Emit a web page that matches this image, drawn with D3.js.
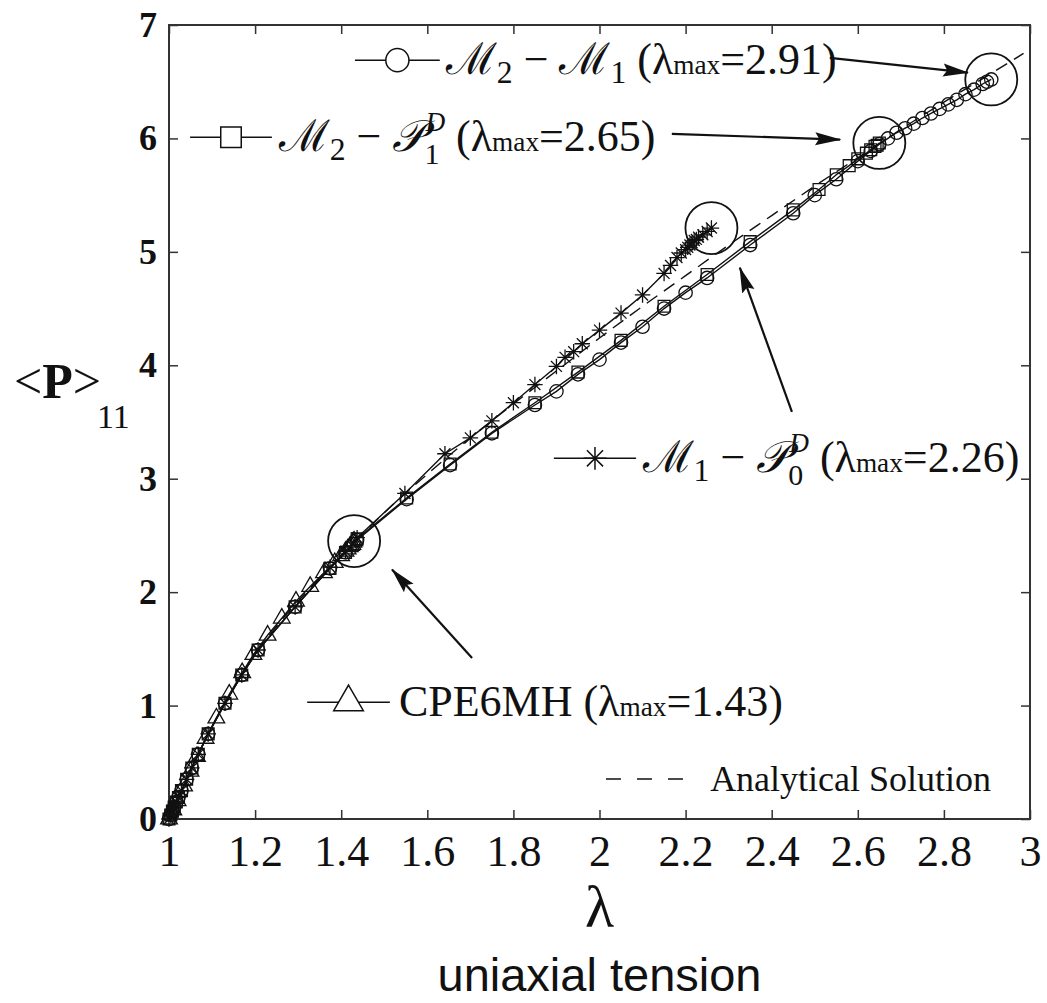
<!DOCTYPE html>
<html>
<head>
<meta charset="utf-8">
<script src="https://cdn.jsdelivr.net/npm/d3@7"></script>
<style>
body { margin: 0; background: #fff; }
svg { display: block; }
</style>
</head>
<body>
<svg id="chart" width="1047" height="1003"></svg>
<script>

// ---- data ----
const lamM2M1 = [1.0, 1.004, 1.008, 1.012, 1.017, 1.022, 1.029, 1.041, 1.053, 1.068, 1.091, 1.13, 1.169, 1.207, 1.293, 1.374, 1.41, 1.437,
    1.552, 1.653, 1.75, 1.85, 1.90, 1.95, 2.0, 2.05, 2.10, 2.15, 2.20, 2.25, 2.35, 2.45, 2.50, 2.55, 2.60, 2.63, 2.65,
    2.67, 2.69, 2.71, 2.73, 2.75, 2.77, 2.79, 2.81, 2.83, 2.85, 2.87, 2.89, 2.90, 2.91];
const pM2M1 = [0, 0.035, 0.07, 0.105, 0.15, 0.19, 0.25, 0.35, 0.45, 0.57, 0.75, 1.02, 1.27, 1.49, 1.87, 2.21, 2.35, 2.46,
    2.82, 3.12, 3.40, 3.65, 3.77, 3.92, 4.05, 4.20, 4.34, 4.50, 4.64, 4.77, 5.06, 5.34, 5.50, 5.64, 5.80, 5.89, 5.95,
    6.00, 6.05, 6.09, 6.13, 6.18, 6.22, 6.26, 6.30, 6.34, 6.39, 6.43, 6.48, 6.50, 6.52];

const lamM2P1 = [1.0, 1.004, 1.008, 1.012, 1.017, 1.022, 1.029, 1.041, 1.053, 1.068, 1.091, 1.13, 1.169, 1.207, 1.293, 1.374, 1.41, 1.437,
    1.552, 1.653, 1.75, 1.85, 1.95, 2.05, 2.15, 2.25, 2.35, 2.45, 2.51, 2.55, 2.58, 2.60, 2.62, 2.63, 2.64, 2.645, 2.65];
const pM2P1 = [0, 0.035, 0.07, 0.105, 0.15, 0.19, 0.25, 0.35, 0.45, 0.57, 0.75, 1.02, 1.27, 1.49, 1.87, 2.21, 2.35, 2.47,
    2.83, 3.13, 3.41, 3.67, 3.94, 4.22, 4.52, 4.80, 5.09, 5.37, 5.55, 5.68, 5.76, 5.82, 5.87, 5.90, 5.93, 5.94, 5.96];

const lamM1P0 = [1.0, 1.004, 1.008, 1.012, 1.017, 1.022, 1.029, 1.041, 1.053, 1.068, 1.091, 1.13, 1.169, 1.207, 1.293, 1.374, 1.41, 1.437,
    1.548, 1.641, 1.70, 1.75, 1.80, 1.85, 1.90, 1.92, 1.94, 1.96, 2.0, 2.05, 2.10, 2.15, 2.165, 2.18, 2.19, 2.20, 2.205,
    2.21, 2.215, 2.22, 2.225, 2.23, 2.24, 2.25, 2.26];
const pM1P0 = [0, 0.035, 0.07, 0.105, 0.15, 0.19, 0.25, 0.35, 0.45, 0.57, 0.75, 1.02, 1.27, 1.49, 1.87, 2.22, 2.36, 2.48,
    2.87, 3.22, 3.36, 3.51, 3.67, 3.83, 3.99, 4.07, 4.12, 4.19, 4.31, 4.46, 4.62, 4.81, 4.88, 4.95, 4.99, 5.02, 5.04,
    5.06, 5.08, 5.10, 5.11, 5.13, 5.15, 5.18, 5.21];

const lamCPE = [1.0, 1.01, 1.02, 1.035, 1.05, 1.065, 1.085, 1.11, 1.14, 1.17, 1.196, 1.229, 1.262, 1.295, 1.328, 1.36, 1.385,
    1.40, 1.41, 1.415, 1.42, 1.423, 1.426, 1.428, 1.43];
const pCPE = [0, 0.08, 0.16, 0.29, 0.42, 0.55, 0.71, 0.89, 1.10, 1.29, 1.45, 1.62, 1.77, 1.92, 2.05, 2.17, 2.26,
    2.32, 2.36, 2.38, 2.40, 2.41, 2.42, 2.44, 2.45];

const lamExact = [1.0, 1.02, 1.05, 1.1, 1.15, 1.2, 1.25, 1.3, 1.4, 1.5, 1.6, 1.7, 1.8, 1.9, 2.0, 2.1, 2.2, 2.3, 2.4,
    2.5, 2.6, 2.7, 2.8, 2.9, 2.985];
const pExact = [0, 0.18, 0.43, 0.82, 1.15, 1.45, 1.70, 1.92, 2.32, 2.70, 3.04, 3.36, 3.66, 3.95, 4.24, 4.52, 4.79, 5.06, 5.32,
    5.58, 5.83, 6.08, 6.32, 6.55, 6.75];

const xTickValues = [1, 1.2, 1.4, 1.6, 1.8, 2, 2.2, 2.4, 2.6, 2.8, 3];
const yTickValues = [0, 1, 2, 3, 4, 5, 6, 7];

// ---- layout ----
const width = 1047, height = 1003;
const svg = d3.select("#chart");

const x = d3.scaleLinear().domain([1, 3]).range([169, 1030]);
const y = d3.scaleLinear().domain([0, 7]).range([819, 25]);

const serif = "'Liberation Serif', 'DejaVu Serif', serif";

// arrow head
svg.append("defs").append("marker")
    .attr("id", "head")
    .attr("markerUnits", "userSpaceOnUse")
    .attr("markerWidth", 26).attr("markerHeight", 16)
    .attr("refX", 25).attr("refY", 8)
    .attr("orient", "auto")
    .append("path")
    .attr("d", "M0,1.5 L26,8 L0,14.5 L4,8 Z")
    .attr("fill", "#111");

// axes (ticks point inwards on all four sides)
const tickStyle = g => {
    g.select(".domain").remove();
    g.selectAll(".tick line").attr("stroke", "#333").attr("stroke-width", 1.5);
};

svg.append("g")
    .attr("transform", `translate(0,${y(0)})`)
    .call(d3.axisBottom(x).tickValues(xTickValues).tickSizeInner(-9).tickSizeOuter(0).tickPadding(16).tickFormat(d3.format("~g")))
    .call(tickStyle)
    .call(g => g.selectAll("text").attr("font-family", serif).attr("font-size", 44).attr("fill", "#111"));

svg.append("g")
    .attr("transform", `translate(0,${y(7)})`)
    .call(d3.axisTop(x).tickValues(xTickValues).tickSizeInner(-9).tickSizeOuter(0).tickFormat(""))
    .call(tickStyle);

svg.append("g")
    .attr("transform", `translate(${x(1)},0)`)
    .call(d3.axisLeft(y).tickValues(yTickValues).tickSizeInner(-9).tickSizeOuter(0).tickPadding(12).tickFormat(d3.format("d")))
    .call(tickStyle)
    .call(g => g.selectAll("text").attr("font-family", serif).attr("font-weight", "bold").attr("font-size", 36).attr("fill", "#111"));

svg.append("g")
    .attr("transform", `translate(${x(3)},0)`)
    .call(d3.axisRight(y).tickValues(yTickValues).tickSizeInner(-9).tickSizeOuter(0).tickFormat(""))
    .call(tickStyle);

svg.append("rect")
    .attr("x", x(1)).attr("y", y(7))
    .attr("width", x(3) - x(1)).attr("height", y(0) - y(7))
    .attr("fill", "none").attr("stroke", "#333").attr("stroke-width", 2);

// ---- series ----
const starSymbol = {
    draw(ctx, size) {
        const r = Math.sqrt(size) / 2;
        const d = r * Math.SQRT1_2;
        ctx.moveTo(-r, 0); ctx.lineTo(r, 0);
        ctx.moveTo(0, -r); ctx.lineTo(0, r);
        ctx.moveTo(-d, -d); ctx.lineTo(d, d);
        ctx.moveTo(-d, d); ctx.lineTo(d, -d);
    }
};

const series = [
    {lam: lamM2M1, p: pM2M1, type: d3.symbolCircle, size: 140},
    {lam: lamM2P1, p: pM2P1, type: d3.symbolSquare, size: 140},
    {lam: lamM1P0, p: pM1P0, type: starSymbol, size: 240},
    {lam: lamCPE, p: pCPE, type: d3.symbolTriangle, size: 120}
];

const line = d3.line().x(d => x(d[0])).y(d => y(d[1]));

svg.append("path")
    .datum(d3.zip(lamExact, pExact))
    .attr("d", line.curve(d3.curveMonotoneX))
    .attr("fill", "none")
    .attr("stroke", "#111")
    .attr("stroke-width", 1.4)
    .attr("stroke-dasharray", "13,8");

line.curve(d3.curveLinear);

series.forEach(s => {
    const pts = d3.zip(s.lam, s.p);
    svg.append("path")
        .datum(pts)
        .attr("d", line)
        .attr("fill", "none")
        .attr("stroke", "#111")
        .attr("stroke-width", 1.4);

    svg.append("g").selectAll("path")
        .data(pts)
        .join("path")
        .attr("transform", d => `translate(${x(d[0])},${y(d[1])})`)
        .attr("d", d3.symbol().type(s.type).size(s.size))
        .attr("fill", "none")
        .attr("stroke", "#111")
        .attr("stroke-width", 1.3);

    // big circle around the last converged step
    const last = pts[pts.length - 1];
    svg.append("circle")
        .attr("cx", x(last[0])).attr("cy", y(last[1]))
        .attr("r", 26)
        .attr("fill", "none")
        .attr("stroke", "#111")
        .attr("stroke-width", 1.8);
});

// ---- annotations (positions in data units) ----
const legendItems = [
    {type: d3.symbolCircle, size: 420, from: 1.432, to: 1.629, at: 6.69, text: 1.643,
        parts: [{t: "ℳ"}, {t: "2", s: 0.72, b: 9}, {t: " − "}, {t: "ℳ"}, {t: "1", s: 0.72, b: 9},
            {t: " (λ"}, {t: "max", s: 0.62}, {t: "=2.91)"}]},
    {type: d3.symbolSquare, size: 420, from: 1.049, to: 1.239, at: 6.01, text: 1.255,
        parts: [{t: "ℳ"}, {t: "2", s: 0.72, b: 9}, {t: " − "}, {t: "𝒫", i: true}, {t: "1", s: 0.68, b: 13},
            {t: "D", s: 0.62, b: -20, dx: -14, i: true}, {t: " (λ"}, {t: "max", s: 0.62}, {t: "=2.65)"}]},
    {type: starSymbol, size: 520, from: 1.894, to: 2.085, at: 3.18, text: 2.100,
        parts: [{t: "ℳ"}, {t: "1", s: 0.72, b: 9}, {t: " − "}, {t: "𝒫", i: true}, {t: "0", s: 0.68, b: 13},
            {t: "D", s: 0.62, b: -20, dx: -14, i: true}, {t: " (λ"}, {t: "max", s: 0.62}, {t: "=2.26)"}]},
    {type: d3.symbolTriangle, size: 380, from: 1.321, to: 1.513, at: 1.03, text: 1.534,
        parts: [{t: "CPE6MH (λ"}, {t: "max", s: 0.62}, {t: "=1.43)"}]}
];

const legendFont = 44;

legendItems.forEach(item => {
    const g = svg.append("g");
    g.append("line")
        .attr("x1", x(item.from)).attr("x2", x(item.to))
        .attr("y1", y(item.at)).attr("y2", y(item.at))
        .attr("stroke", "#111").attr("stroke-width", 1.5);
    g.append("path")
        .attr("transform", `translate(${(x(item.from) + x(item.to)) / 2},${y(item.at)})`)
        .attr("d", d3.symbol().type(item.type).size(item.size))
        .attr("fill", "#fff")
        .attr("stroke", "#111")
        .attr("stroke-width", 1.5);

    const t = g.append("text")
        .attr("x", x(item.text))
        .attr("y", y(item.at) + 14)
        .attr("font-family", serif)
        .attr("font-size", legendFont)
        .attr("fill", "#111");
    let shift = 0;
    item.parts.forEach(p => {
        const b = p.b || 0;
        const sp = t.append("tspan")
            .text(p.t)
            .attr("font-size", legendFont * (p.s || 1))
            .attr("dy", b - shift);
        if (p.dx) sp.attr("dx", p.dx);
        if (p.i) sp.attr("font-style", "italic");
        shift = b;
    });
});

// analytical solution key
svg.append("line")
    .attr("x1", x(2.015)).attr("x2", x(2.196))
    .attr("y1", y(0.353)).attr("y2", y(0.353))
    .attr("stroke", "#111").attr("stroke-width", 1.5)
    .attr("stroke-dasharray", "15,16");
svg.append("text")
    .attr("x", x(2.257)).attr("y", y(0.353) + 12)
    .attr("font-family", serif).attr("font-size", 36).attr("fill", "#111")
    .text("Analytical Solution");

// arrows pointing at the circled end points
const arrows = [
    [[2.535, 6.71], [2.856, 6.58]],
    [[2.168, 6.04], [2.559, 5.99]],
    [[2.447, 3.59], [2.326, 4.86]],
    [[1.704, 1.42], [1.518, 2.20]]
];
svg.append("g").selectAll("line")
    .data(arrows)
    .join("line")
    .attr("x1", d => x(d[0][0])).attr("y1", d => y(d[0][1]))
    .attr("x2", d => x(d[1][0])).attr("y2", d => y(d[1][1]))
    .attr("stroke", "#111").attr("stroke-width", 2.2)
    .attr("marker-end", "url(#head)");

// axis titles
const yl = svg.append("text")
    .attr("x", 14).attr("y", 398)
    .attr("font-family", serif).attr("font-size", 50).attr("fill", "#111");
yl.append("tspan").text("<");
yl.append("tspan").text("P").attr("font-weight", "bold");
yl.append("tspan").text(">");
yl.append("tspan").text("11").attr("font-size", 34).attr("dy", 30).attr("dx", -4);

svg.append("text")
    .attr("x", x(2)).attr("y", 927)
    .attr("text-anchor", "middle")
    .attr("font-family", serif).attr("font-size", 60).attr("fill", "#111")
    .text("λ");

svg.append("text")
    .attr("x", x(2)).attr("y", 991)
    .attr("text-anchor", "middle")
    .attr("font-family", "'Liberation Sans', Arial, sans-serif").attr("font-size", 47).attr("fill", "#111")
    .text("uniaxial tension");

</script>
</body>
</html>
